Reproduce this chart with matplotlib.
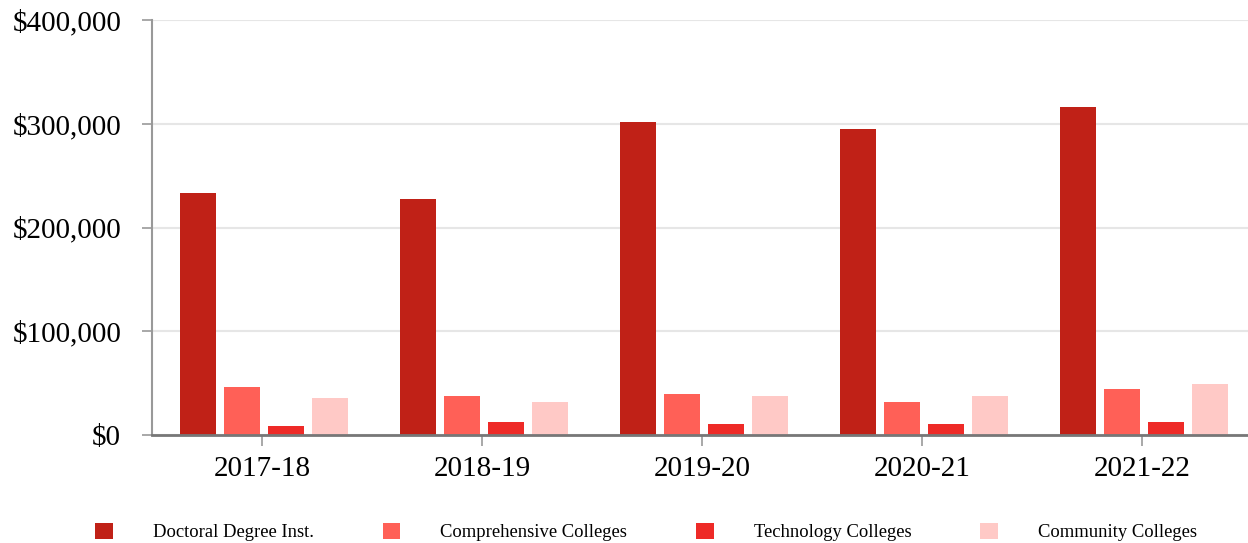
import numpy as np
import matplotlib.pyplot as plt
from matplotlib.ticker import FuncFormatter

plt.rcParams["font.family"] = ["Liberation Serif", "DejaVu Serif"]

years = ["2017-18", "2018-19", "2019-20", "2020-21", "2021-22"]
doctoral = [233000, 227000, 302000, 295000, 316000]
comprehensive = [46000, 38000, 40000, 32000, 44000]
technology = [9000, 13000, 11000, 11000, 13000]
community = [36000, 32000, 38000, 38000, 49000]

series = [
    ("Doctoral Degree Inst.", doctoral, "#c02117"),
    ("Comprehensive Colleges", comprehensive, "#ff6057"),
    ("Technology Colleges", technology, "#ee2a27"),
    ("Community Colleges", community, "#ffc9c6"),
]

fig = plt.figure(figsize=(12.48, 5.43), dpi=100)
ax = fig.add_axes([152 / 1248, 1 - 435 / 543, 1100 / 1248, 415 / 543])

x = np.arange(len(years))
offsets = [-0.291, -0.091, 0.109, 0.309]
for (name, vals, color), off in zip(series, offsets):
    ax.bar(x + off, vals, width=0.164, color=color, label=name, zorder=3)

ax.set_xlim(-0.5, 4.5)
ax.set_ylim(0, 400000)
ax.set_yticks([0, 100000, 200000, 300000, 400000])
ax.yaxis.set_major_formatter(FuncFormatter(lambda v, p: "${:,.0f}".format(v)))
ax.set_xticks(x)
ax.set_xticklabels(years)

ax.grid(axis="y", color="#e6e6e6", linewidth=1.5, zorder=0)
for s in ["top", "right"]:
    ax.spines[s].set_visible(False)
ax.spines["left"].set_color("#999999")
ax.spines["left"].set_linewidth(1.5)
ax.spines["bottom"].set_color("#777777")
ax.spines["bottom"].set_linewidth(2)
ax.spines["bottom"].set_zorder(4)

ax.tick_params(axis="y", length=7.2, width=1.2, color="#999999", pad=15,
               labelsize=21, labelcolor="black")
ax.tick_params(axis="x", length=8, width=1.2, color="#999999", pad=7,
               labelsize=21, labelcolor="black")

fig.legend(loc="center left", bbox_to_anchor=(95 / 1248, 1 - 532 / 543),
           ncol=4, frameon=False, fontsize=13.4, handlelength=0.95,
           handleheight=0.95, handletextpad=2.15, columnspacing=3.7,
           borderpad=0, borderaxespad=0)

fig.savefig("out.png", dpi=100)
